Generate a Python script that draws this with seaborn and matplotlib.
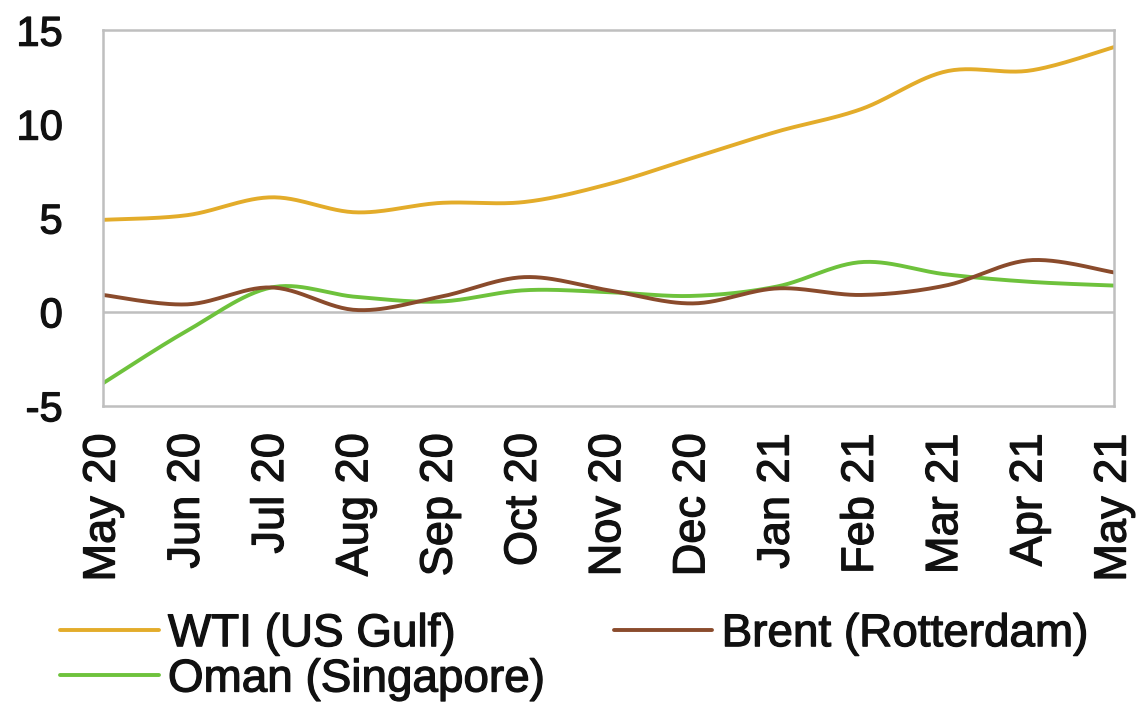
import numpy as np
import pandas as pd
import matplotlib
matplotlib.use("Agg")
import matplotlib.pyplot as plt
import matplotlib.patheffects as pe
import seaborn as sns

# ── data ────────────────────────────────────────────────────────────────────
months = ["May 20", "Jun 20", "Jul 20", "Aug 20", "Sep 20", "Oct 20", "Nov 20",
          "Dec 20", "Jan 21", "Feb 21", "Mar 21", "Apr 21", "May 21"]
wti = [4.9, 5.15, 6.1, 5.3, 5.8, 5.85, 6.8, 8.2, 9.6, 10.8, 12.8, 12.85, 14.1]
brent = [0.9, 0.4, 1.3, 0.1, 0.8, 1.85, 1.15, 0.45, 1.25, 0.9, 1.4, 2.75, 2.1]
oman = [-3.8, -1.0, 1.3, 0.8, 0.55, 1.15, 1.05, 0.85, 1.35, 2.65, 2.0, 1.6, 1.4]
yticks = [-5, 0, 5, 10, 15]

series = [("WTI (US Gulf)", wti, "#E3AC2A"),
          ("Oman (Singapore)", oman, "#6EC23C"),
          ("Brent (Rotterdam)", brent, "#8A4B2C")]


def smooth(y, n=30):
    # Excel-style smoothed line: cubic bezier through each point
    x = np.arange(len(y), dtype=float)
    p = np.column_stack([x, np.asarray(y, float)])
    pts = []
    for i in range(len(p) - 1):
        p0 = p[max(i - 1, 0)]
        p3 = p[min(i + 2, len(p) - 1)]
        c1 = p[i] + (p[i + 1] - p0) / 6
        c2 = p[i + 1] - (p3 - p[i]) / 6
        t = np.linspace(0, 1, n, endpoint=(i == len(p) - 2))[:, None]
        pts.append((1 - t) ** 3 * p[i] + 3 * (1 - t) ** 2 * t * c1
                   + 3 * (1 - t) * t ** 2 * c2 + t ** 3 * p[i + 1])
    pts = np.vstack(pts)
    return pts[:, 0], pts[:, 1]


sns.set_style("white")
plt.rcParams["font.family"] = ["Liberation Sans", "DejaVu Sans"]
heavy = [pe.withStroke(linewidth=0.9, foreground="#111111")]

fig = plt.figure(figsize=(11.36, 7.02), dpi=100)
ax = fig.add_axes([0.0907, 0.422, 0.890, 0.535])

for name, vals, col in series:
    xs, ys = smooth(vals)
    sns.lineplot(x=xs, y=ys, ax=ax, color=col, linewidth=2.8, label=name,
                 sort=False, estimator=None)

ax.axhline(0, color="#BFBFBF", linewidth=1.8, zorder=1)
ax.set_xlim(0, len(months) - 1)
ax.set_ylim(-5, 15)
ax.set_yticks(yticks)
ax.set_yticklabels([str(v) for v in yticks])
ax.set_xticks(range(len(months)))
ax.set_xticklabels(months, rotation=90)
ax.tick_params(axis="y", labelsize=30, pad=29, length=0, labelcolor="#111111")
ax.tick_params(axis="x", labelsize=32.5, pad=20, length=0, labelcolor="#111111")
for lab in ax.get_xticklabels() + ax.get_yticklabels():
    lab.set_path_effects(heavy)
for s in ax.spines.values():
    s.set_color("#BFBFBF")
    s.set_linewidth(1.8)

ax.get_legend().remove()
handles, labels = ax.get_legend_handles_labels()
leg = fig.legend(handles, labels, ncol=2, loc="upper left",
                 bbox_to_anchor=(0.053, 0.128), frameon=False, fontsize=33,
                 handlelength=2.15, handletextpad=0.2, columnspacing=1.5,
                 labelspacing=0.03, borderaxespad=0, borderpad=0)
for t in leg.get_texts():
    t.set_color("#111111")
    t.set_path_effects(heavy)

plt.savefig("out.png", dpi=100)
plt.close()
